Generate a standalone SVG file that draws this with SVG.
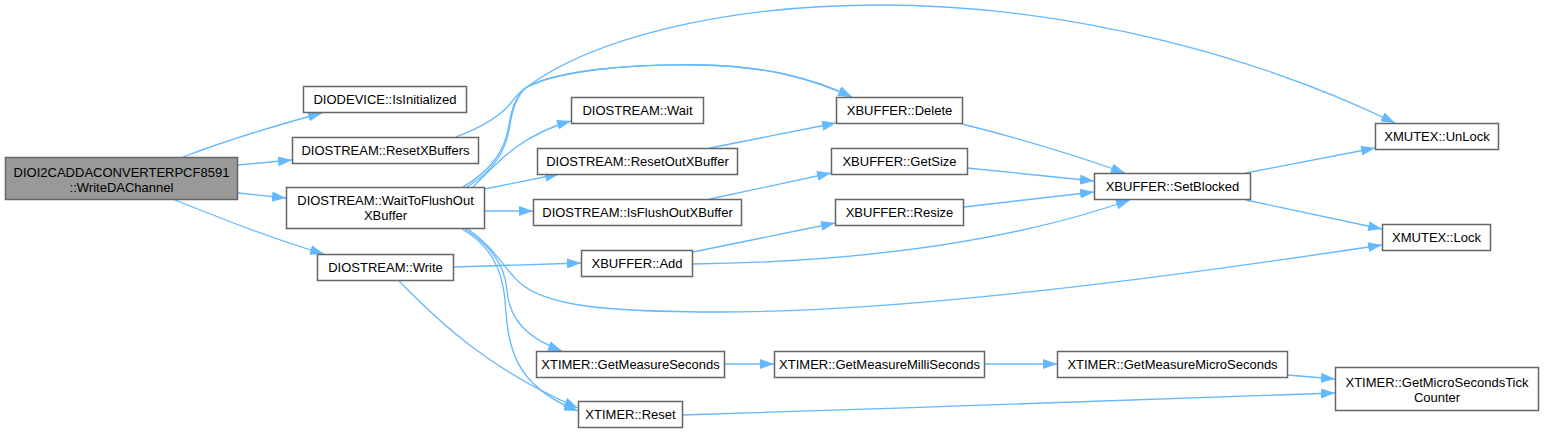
<svg xmlns="http://www.w3.org/2000/svg" width="1544" height="434" viewBox="0 0 1544 434">
<defs>
<marker id="ah" markerUnits="userSpaceOnUse" markerWidth="14" markerHeight="10" refX="14" refY="5" orient="auto">
<path d="M0,0 L14,5 L0,10 Z" fill="#63b8ff"/>
</marker>
<style>
.n rect{fill:#ffffff;stroke:#666666;stroke-width:1.5}
.root rect{fill:#999999;stroke:#666666;stroke-width:1.5}
text{font-family:"Liberation Sans",Arial,sans-serif;font-size:13px;fill:#000000;text-anchor:middle}
.e path{fill:none;stroke:#63b8ff;stroke-width:1.3;marker-end:url(#ah)}
</style>
</defs>
<rect width="1544" height="434" fill="#ffffff"/>
<g id="edges" class="e">
<path d="M183,157 C220,143 270,127 322,113"/>
<path d="M238,165 L292,160"/>
<path d="M238,193 L286,198"/>
<path d="M175,200 C220,218 270,238 324,254"/>
<path d="M456,137 C480,128 500,116 510,104 C516,96 520,91 527,87 C560,70 630,64 700,65 C770,66 815,80 852,97"/>
<path d="M463,187 C492,170 505,150 509,125 C512,105 518,93 527,87 C560,70 630,64 700,65 C770,66 815,80 852,97"/>
<path d="M467,187 C495,170 506,150 510,125 C513,105 519,93 527,87 C590,40 720,5 880,5 C1080,5 1270,62 1395,123"/>
<path d="M473,187 C495,165 520,135 571,121"/>
<path d="M485,189 L559,174"/>
<path d="M485,211 L533,211"/>
<path d="M468,229 C495,248 505,270 520,283 C545,305 600,312 720,312 C900,312 1150,280 1382,245"/>
<path d="M465,229 C490,245 505,265 507,290 C509,318 525,337 562,351"/>
<path d="M462,229 C490,245 502,268 505,300 C508,345 512,385 578,411"/>
<path d="M454,267 L581,263"/>
<path d="M399,281 C440,323 490,370 578,408"/>
<path d="M710,148 L836,123"/>
<path d="M710,199 L831,173"/>
<path d="M693,252 L835,223"/>
<path d="M693,264 C850,262 1000,245 1130,200"/>
<path d="M962,124 Q1050,146 1125,173"/>
<path d="M967,168 L1094,181"/>
<path d="M964,207 L1094,192"/>
<path d="M1246,173 L1375,148"/>
<path d="M1246,200 L1382,229"/>
<path d="M724,364 L774,364"/>
<path d="M984,364 L1057,364"/>
<path d="M1287,375 L1335,379"/>
<path d="M682,415 C900,408 1150,400 1335,393"/>
</g>
<g id="n_root" class="root"><rect x="5.5" y="157.5" width="232" height="42"/><text x="121.5" y="177">DIOI2CADDACONVERTERPCF8591</text><text x="121.5" y="192">::WriteDAChannel</text></g>
<g id="n_isinit" class="n"><rect x="303.5" y="86.5" width="163" height="26"/><text x="385" y="104">DIODEVICE::IsInitialized</text></g>
<g id="n_resetx" class="n"><rect x="292.5" y="137.5" width="186" height="26"/><text x="385.5" y="155">DIOSTREAM::ResetXBuffers</text></g>
<g id="n_wtf" class="n"><rect x="286.5" y="187.5" width="198" height="41"/><text x="385.5" y="205">DIOSTREAM::WaitToFlushOut</text><text x="385.5" y="220">XBuffer</text></g>
<g id="n_write" class="n"><rect x="317.5" y="254.5" width="136" height="26"/><text x="385.5" y="272">DIOSTREAM::Write</text></g>
<g id="n_wait" class="n"><rect x="571.5" y="97.5" width="132" height="26"/><text x="637.5" y="115">DIOSTREAM::Wait</text></g>
<g id="n_resetout" class="n"><rect x="537.5" y="148.5" width="200" height="26"/><text x="637.5" y="166">DIOSTREAM::ResetOutXBuffer</text></g>
<g id="n_isflush" class="n"><rect x="533.5" y="199.5" width="208" height="26"/><text x="637.5" y="217">DIOSTREAM::IsFlushOutXBuffer</text></g>
<g id="n_add" class="n"><rect x="581.5" y="250.5" width="111" height="26"/><text x="637" y="268">XBUFFER::Add</text></g>
<g id="n_delete" class="n"><rect x="836.5" y="97.5" width="126" height="26"/><text x="899.5" y="115">XBUFFER::Delete</text></g>
<g id="n_getsize" class="n"><rect x="831.5" y="148.5" width="136" height="26"/><text x="899.5" y="166">XBUFFER::GetSize</text></g>
<g id="n_resize" class="n"><rect x="835.5" y="199.5" width="128" height="26"/><text x="899.5" y="217">XBUFFER::Resize</text></g>
<g id="n_setblocked" class="n"><rect x="1094.5" y="173.5" width="156" height="26"/><text x="1172.5" y="191">XBUFFER::SetBlocked</text></g>
<g id="n_unlock" class="n"><rect x="1375.5" y="123.5" width="123" height="26"/><text x="1437" y="141">XMUTEX::UnLock</text></g>
<g id="n_lock" class="n"><rect x="1382.5" y="224.5" width="108" height="26"/><text x="1436.5" y="242">XMUTEX::Lock</text></g>
<g id="n_gms" class="n"><rect x="536.5" y="351.5" width="188" height="26"/><text x="630.5" y="369">XTIMER::GetMeasureSeconds</text></g>
<g id="n_gmms" class="n"><rect x="774.5" y="351.5" width="210" height="26"/><text x="879.5" y="369">XTIMER::GetMeasureMilliSeconds</text></g>
<g id="n_reset" class="n"><rect x="578.5" y="401.5" width="104" height="26"/><text x="630.5" y="419">XTIMER::Reset</text></g>
<g id="n_gmus" class="n"><rect x="1057.5" y="351.5" width="230" height="26"/><text x="1172.5" y="369">XTIMER::GetMeasureMicroSeconds</text></g>
<g id="n_tick" class="n"><rect x="1335.5" y="367.5" width="203" height="43"/><text x="1437" y="387">XTIMER::GetMicroSecondsTick</text><text x="1437" y="402">Counter</text></g>
</svg>
